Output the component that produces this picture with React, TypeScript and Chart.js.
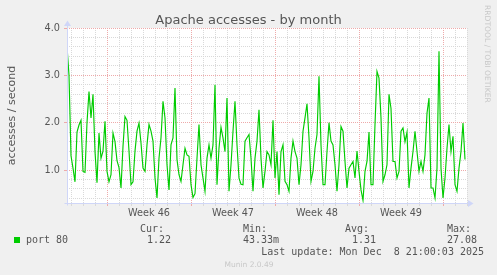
import React, { useEffect, useRef } from 'react';
import { Chart, registerables } from 'chart.js';

Chart.register(...registerables);

const TITLE = 'Apache accesses - by month';
const Y_UNIT_LABEL = 'accesses / second';
const WATERMARK = 'RRDTOOL / TOBI OETIKER';
const VERSION = 'Munin 2.0.49';
const LAST_UPDATE = 'Last update: Mon Dec  8 21:00:03 2025';
const SERIES_NAME = 'port 80';
const STAT_HEADERS = ['Cur:', 'Min:', 'Avg:', 'Max:'];
const STAT_VALUES = ['1.22', '43.33m', '1.31', '27.08'];

// one sample every 4 hours
const ACCESSES = [
  3.61, 3.0, 1.3, 1.04, 0.75, 1.8, 1.95, 2.05, 0.97, 0.95,
  2.0, 2.66, 2.1, 2.6, 1.39, 0.73, 1.78, 1.25, 1.4, 2.03,
  0.97, 0.75, 0.9, 1.78, 1.6, 1.2, 1.05, 0.62, 1.5, 2.13,
  2.05, 1.4, 0.69, 0.75, 1.4, 1.82, 1.99, 1.57, 1.04, 0.97,
  1.53, 1.96, 1.82, 1.61, 0.83, 0.41, 1.25, 1.68, 2.45, 2.1,
  1.11, 0.58, 1.53, 1.68, 2.73, 1.22, 0.9, 0.76, 1.11, 1.46,
  1.32, 1.29, 0.69, 0.42, 0.5, 1.25, 1.96, 1.11, 0.83, 0.55,
  1.25, 1.53, 1.25, 1.53, 2.8, 0.69, 1.46, 1.9, 1.68, 1.39,
  2.52, 0.55, 1.11, 1.82, 2.45, 1.53, 0.83, 0.7, 0.69, 1.61,
  1.68, 1.75, 1.25, 0.55, 1.25, 1.61, 2.27, 1.25, 0.62, 0.97,
  1.39, 1.32, 1.11, 2.05, 0.83, 1.39, 0.48, 1.39, 1.53, 0.76,
  0.69, 0.55, 1.25, 1.61, 1.39, 1.25, 0.69, 1.11, 1.82, 2.1,
  2.4, 1.68, 0.76, 0.97, 1.46, 1.75, 2.98, 1.53, 0.69, 0.69,
  1.39, 2.0, 1.61, 1.53, 1.11, 0.55, 1.11, 1.92, 1.82, 1.18,
  0.62, 1.04, 1.11, 1.18, 0.83, 1.4, 0.97, 0.58, 0.36, 0.97,
  1.18, 1.8, 0.69, 0.69, 1.96, 3.08, 2.94, 2.1, 0.76, 0.9,
  1.11, 2.6, 2.3, 1.18, 1.18, 0.83, 0.97, 1.82, 1.89, 1.6,
  1.8, 0.62, 1.04, 1.39, 1.82, 1.39, 0.97, 1.18, 0.97, 1.32,
  2.2, 2.52, 0.62, 0.62, 0.41, 1.04, 3.51, 1.04, 0.41, 0.83,
  1.46, 1.96, 1.39, 1.71, 0.69, 0.55, 1.04, 1.39, 1.99, 1.22,
];

const X_MIN = 0;
const X_MAX = 200;
const DAY_TICKS = [
  2, 8, 14, 20, 26, 32, 38, 44, 50, 56, 62, 68, 74, 80, 86, 92, 98,
  104, 110, 116, 122, 128, 134, 140, 146, 152, 158, 164, 170, 176, 182, 188, 194, 200,
];
const WEEK_TICKS = [20, 62, 104, 146, 188];
const WEEK_LABEL_TICKS = [41, 83, 125, 167];
const WEEK_LABELS = ['Week 46', 'Week 47', 'Week 48', 'Week 49'];

const Y_MIN = 0.303;
const Y_MAX = 4.0;
const Y_MINOR_TICKS = [0.4, 0.6, 0.8, 1.0, 1.2, 1.4, 1.6, 1.8, 2.0, 2.2, 2.4, 2.6, 2.8, 3.0, 3.2, 3.4, 3.6, 3.8, 4.0];
const Y_MAJOR_TICKS = [1, 2, 3, 4];
const Y_TICK_LABELS = ['1.0', '2.0', '3.0', '4.0'];

const LINE_COLOR = '#00cc00';
const FONT_COLOR = '#555555';
const MINOR_GRID = '#d9d9d9';
const MAJOR_GRID = '#eeaaaa';
const AXIS_COLOR = '#cfd6f8';
const SANS = '"DejaVu Sans", "Liberation Sans", sans-serif';
const MONO = '"DejaVu Sans Mono", "Liberation Mono", monospace';

const near = (a: number, b: number) => Math.abs(a - b) < 1e-6;
const idxIn = (list: number[], v: number) => list.findIndex((t) => near(t, v));

const muninPlugin = {
  id: 'munin',
  beforeDraw(chart: any) {
    const { ctx, chartArea: a, width, height } = chart;
    ctx.save();
    ctx.fillStyle = '#f0f0f0';
    ctx.fillRect(0, 0, width, height);
    ctx.fillStyle = '#ffffff';
    ctx.fillRect(a.left, a.top, a.right - a.left, a.bottom - a.top);
    ctx.restore();
  },
  afterDraw(chart: any) {
    const { ctx, chartArea: a } = chart;
    ctx.save();
    // axes
    ctx.strokeStyle = AXIS_COLOR;
    ctx.fillStyle = AXIS_COLOR;
    ctx.lineWidth = 1;
    const ax = Math.round(a.left) + 0.5;
    const ay = Math.round(a.bottom) + 0.5;
    ctx.beginPath();
    ctx.moveTo(ax, ay + 2);
    ctx.lineTo(ax, a.top - 3);
    ctx.moveTo(ax - 3, ay);
    ctx.lineTo(a.right + 2, ay);
    ctx.stroke();
    ctx.beginPath();
    ctx.moveTo(ax - 3.5, a.top - 2);
    ctx.lineTo(ax + 3.5, a.top - 2);
    ctx.lineTo(ax, a.top - 7.5);
    ctx.closePath();
    ctx.fill();
    ctx.beginPath();
    ctx.moveTo(a.right + 1, ay - 3.5);
    ctx.lineTo(a.right + 1, ay + 3.5);
    ctx.lineTo(a.right + 6.5, ay);
    ctx.closePath();
    ctx.fill();

    // title
    ctx.fillStyle = FONT_COLOR;
    ctx.font = `13px ${SANS}`;
    ctx.textAlign = 'center';
    ctx.textBaseline = 'alphabetic';
    ctx.fillText(TITLE, 248.5, 24);

    // unit label
    ctx.save();
    ctx.translate(15, (a.top + a.bottom) / 2);
    ctx.rotate(-Math.PI / 2);
    ctx.font = `11px ${SANS}`;
    ctx.fillText(Y_UNIT_LABEL, 0, 0);
    ctx.restore();

    // watermark
    ctx.save();
    ctx.translate(485, 5);
    ctx.rotate(Math.PI / 2);
    ctx.textAlign = 'left';
    ctx.fillStyle = '#c8c8c8';
    ctx.font = `7.6px ${SANS}`;
    ctx.fillText(WATERMARK, 0, 0);
    ctx.restore();

    // legend
    ctx.font = `10px ${MONO}`;
    ctx.textAlign = 'left';
    ctx.fillStyle = FONT_COLOR;
    const headerX = [140, 243, 345, 447];
    const valueX = [147, 243, 352, 447];
    STAT_HEADERS.forEach((h, i) => ctx.fillText(h, headerX[i], 231.5));
    STAT_VALUES.forEach((v, i) => ctx.fillText(v, valueX[i], 243.3));
    ctx.fillText(SERIES_NAME, 26, 243.3);
    ctx.fillStyle = LINE_COLOR;
    ctx.fillRect(14, 237, 6, 6);
    ctx.fillStyle = FONT_COLOR;
    ctx.textAlign = 'right';
    ctx.fillText(LAST_UPDATE, 484, 255);

    ctx.textAlign = 'center';
    ctx.fillStyle = '#c8c8c8';
    ctx.font = `7.5px ${SANS}`;
    ctx.fillText(VERSION, 249, 267);
    ctx.restore();
  },
};

export default function App() {
  const canvasRef = useRef<HTMLCanvasElement | null>(null);

  useEffect(() => {
    const canvas = canvasRef.current;
    if (!canvas) return;
    const xTicks = [...DAY_TICKS, ...WEEK_LABEL_TICKS].sort((p, q) => p - q);
    const chart = new Chart(canvas, {
      type: 'line',
      data: {
        datasets: [
          {
            label: SERIES_NAME,
            data: ACCESSES.map((v, i) => ({ x: i, y: v })),
            borderColor: LINE_COLOR,
            borderWidth: 1.15,
            pointRadius: 0,
            tension: 0,
            fill: false,
          },
        ],
      },
      options: {
        responsive: false,
        devicePixelRatio: 1,
        animation: false,
        events: [],
        layout: { padding: { top: 28, right: 30, bottom: 56, left: 0 } },
        plugins: { legend: { display: false }, tooltip: { enabled: false }, title: { display: false } },
        scales: {
          x: {
            type: 'linear',
            min: X_MIN,
            max: X_MAX,
            afterBuildTicks: (scale: any) => {
              scale.ticks = xTicks.map((v) => ({ value: v }));
            },
            afterFit: (scale: any) => {
              scale.height = 16;
            },
            ticks: {
              autoSkip: false,
              maxRotation: 0,
              minRotation: 0,
              padding: 2,
              color: FONT_COLOR,
              font: { family: SANS, size: 9.7 },
              callback: (v: any) => {
                const k = idxIn(WEEK_LABEL_TICKS, Number(v));
                return k >= 0 ? WEEK_LABELS[k] : '';
              },
            },
            border: { display: false, dash: [1, 1] },
            grid: {
              lineWidth: 1,
              tickLength: 3,
              color: (c: any) => {
                const v = c.tick ? c.tick.value : 0;
                if (idxIn(WEEK_LABEL_TICKS, v) >= 0) return 'rgba(0,0,0,0)';
                return idxIn(WEEK_TICKS, v) >= 0 ? MAJOR_GRID : MINOR_GRID;
              },
              tickColor: (c: any) => {
                const v = c.tick ? c.tick.value : 0;
                if (idxIn(WEEK_LABEL_TICKS, v) >= 0) return 'rgba(0,0,0,0)';
                return idxIn(WEEK_TICKS, v) >= 0 ? MAJOR_GRID : MINOR_GRID;
              },
            },
          },
          y: {
            type: 'linear',
            min: Y_MIN,
            max: Y_MAX,
            afterBuildTicks: (scale: any) => {
              scale.ticks = Y_MINOR_TICKS.map((v) => ({ value: v }));
            },
            afterFit: (scale: any) => {
              scale.width = 67;
            },
            ticks: {
              autoSkip: false,
              padding: 4,
              color: FONT_COLOR,
              font: { family: SANS, size: 9.7 },
              callback: (v: any) => {
                const k = idxIn(Y_MAJOR_TICKS, Number(v));
                return k >= 0 ? Y_TICK_LABELS[k] : '';
              },
            },
            border: { display: false, dash: [1, 1] },
            grid: {
              lineWidth: 1,
              tickLength: 3,
              color: (c: any) => {
                const v = c.tick ? c.tick.value : 0;
                return idxIn(Y_MAJOR_TICKS, v) >= 0 ? MAJOR_GRID : MINOR_GRID;
              },
              tickColor: (c: any) => {
                const v = c.tick ? c.tick.value : 0;
                return idxIn(Y_MAJOR_TICKS, v) >= 0 ? MAJOR_GRID : 'rgba(0,0,0,0)';
              },
            },
          },
        },
      },
      plugins: [muninPlugin],
    } as any);
    return () => chart.destroy();
  }, []);

  return (
    <div style={{ position: 'fixed', left: 0, top: 0, width: 497, height: 275, background: '#f0f0f0' }}>
      <canvas ref={canvasRef} width={497} height={275} style={{ width: 497, height: 275, display: 'block' }} />
    </div>
  );
}
